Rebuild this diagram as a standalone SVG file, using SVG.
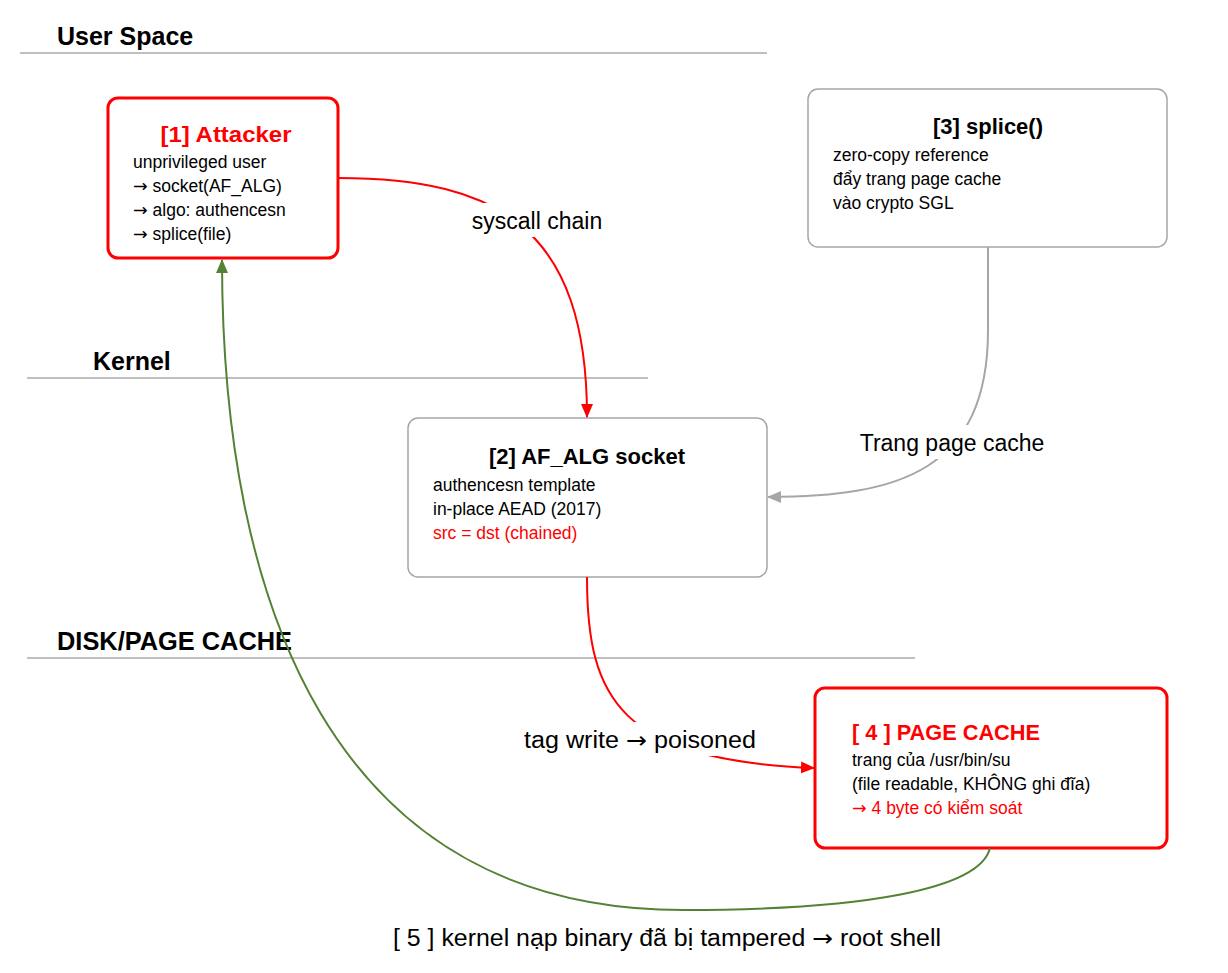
<svg xmlns="http://www.w3.org/2000/svg" width="1228" height="973" viewBox="0 0 1228 973">
<style>
text{font-family:"Liberation Sans",Arial,sans-serif;}
.arw{font-family:"DejaVu Sans",sans-serif;}
.hdr{font-size:25px;font-weight:bold;fill:#000;}
.sep{stroke:#bfbfbf;stroke-width:2;fill:none;}
.redbox{fill:#fff;stroke:#ff0000;stroke-width:3;}
.graybox{fill:#fff;stroke:#a6a6a6;stroke-width:1.5;}
.title{font-size:22px;font-weight:bold;}
.body{font-size:17.5px;fill:#000;}
.red{fill:#ff0000;}
.lbl{font-size:23px;fill:#000;}
.c-red{stroke:#ff0000;stroke-width:2;fill:none;}
.c-gray{stroke:#a6a6a6;stroke-width:2;fill:none;}
.c-green{stroke:#548235;stroke-width:2;fill:none;}
</style>
<defs>
<marker id="ar" markerWidth="14" markerHeight="14" refX="13" refY="7" orient="auto" markerUnits="userSpaceOnUse"><path d="M0,1 L14,7 L0,13 Z" fill="#ff0000"/></marker>
<marker id="ag" markerWidth="14" markerHeight="14" refX="13" refY="7" orient="auto" markerUnits="userSpaceOnUse"><path d="M0,1 L14,7 L0,13 Z" fill="#a6a6a6"/></marker>
<marker id="agr" markerWidth="14" markerHeight="14" refX="13" refY="7" orient="auto" markerUnits="userSpaceOnUse"><path d="M0,1 L14,7 L0,13 Z" fill="#548235"/></marker>
</defs>
<rect width="1228" height="973" fill="#fff"/>

<g id="lanes">
<text class="hdr" x="57" y="45">User Space</text>
<line class="sep" x1="20" y1="53" x2="767" y2="53"/>
<text class="hdr" x="93" y="370">Kernel</text>
<line class="sep" x1="27" y1="378" x2="648" y2="378"/>
<text class="hdr" x="57" y="650" textLength="235" lengthAdjust="spacingAndGlyphs">DISK/PAGE CACHE</text>
<line class="sep" x1="27" y1="658" x2="915" y2="658"/>
</g>

<g id="node1">
<rect class="redbox" x="108" y="98" width="230" height="160" rx="10"/>
<text class="title red" x="226" y="142" text-anchor="middle" textLength="131" lengthAdjust="spacingAndGlyphs">[1] Attacker</text>
<text class="body" x="133" y="168">unprivileged user</text>
<text class="body" x="133" y="192"><tspan class="arw">→</tspan> socket(AF_ALG)</text>
<text class="body" x="133" y="216"><tspan class="arw">→</tspan> algo: authencesn</text>
<text class="body" x="133" y="240"><tspan class="arw">→</tspan> splice(file)</text>
</g>

<g id="node3">
<rect class="graybox" x="808" y="89" width="359" height="158" rx="10"/>
<text class="title" x="988" y="134" text-anchor="middle">[3] splice()</text>
<text class="body" x="833" y="161">zero-copy reference</text>
<text class="body" x="833" y="185">đẩy trang page cache</text>
<text class="body" x="833" y="209">vào crypto SGL</text>
</g>

<g id="node2">
<rect class="graybox" x="408" y="418" width="359" height="159" rx="10"/>
<text class="title" x="587" y="464" text-anchor="middle">[2] AF_ALG socket</text>
<text class="body" x="433" y="491">authencesn template</text>
<text class="body" x="433" y="515">in-place AEAD (2017)</text>
<text class="body red" x="433" y="539">src = dst (chained)</text>
</g>

<g id="node4">
<rect class="redbox" x="815" y="688" width="352" height="160" rx="10"/>
<text class="title red" x="852" y="740" textLength="188" lengthAdjust="spacingAndGlyphs">[ 4 ] PAGE CACHE</text>
<text class="body" x="852" y="766">trang của /usr/bin/su</text>
<text class="body" x="852" y="790">(file readable, KHÔNG ghi đĩa)</text>
<text class="body red" x="852" y="814"><tspan class="arw">→</tspan> 4 byte có kiểm soát</text>
</g>

<g id="connectors">
<path class="c-red" d="M338,178 C500,178 587,230 587,417" marker-end="url(#ar)"/>
<path class="c-gray" d="M988,247 L988,330 C988,470 900,497 768,497" marker-end="url(#ag)"/>
<path class="c-red" d="M587,577 C587,700 620,760 814,768" marker-end="url(#ar)"/>
<path class="c-green" d="M990,848 C980,890 860,910 683,910 C330,910 222,600 222,260" marker-end="url(#agr)"/>
</g>

<g id="labels">
<rect x="466" y="203" width="142" height="34" fill="#fff"/>
<text class="lbl" x="537" y="229" text-anchor="middle">syscall chain</text>
<rect x="853" y="425" width="198" height="34" fill="#fff"/>
<text class="lbl" x="952" y="451" text-anchor="middle">Trang page cache</text>
<rect x="519" y="722" width="242" height="34" fill="#fff"/>
<text class="lbl" x="524" y="748" textLength="232" lengthAdjust="spacingAndGlyphs">tag write <tspan class="arw">→</tspan> poisoned</text>
<text class="lbl" x="393" y="946" textLength="548" lengthAdjust="spacingAndGlyphs">[ 5 ] kernel nạp binary đã bị tampered <tspan class="arw">→</tspan> root shell</text>
</g>
</svg>
